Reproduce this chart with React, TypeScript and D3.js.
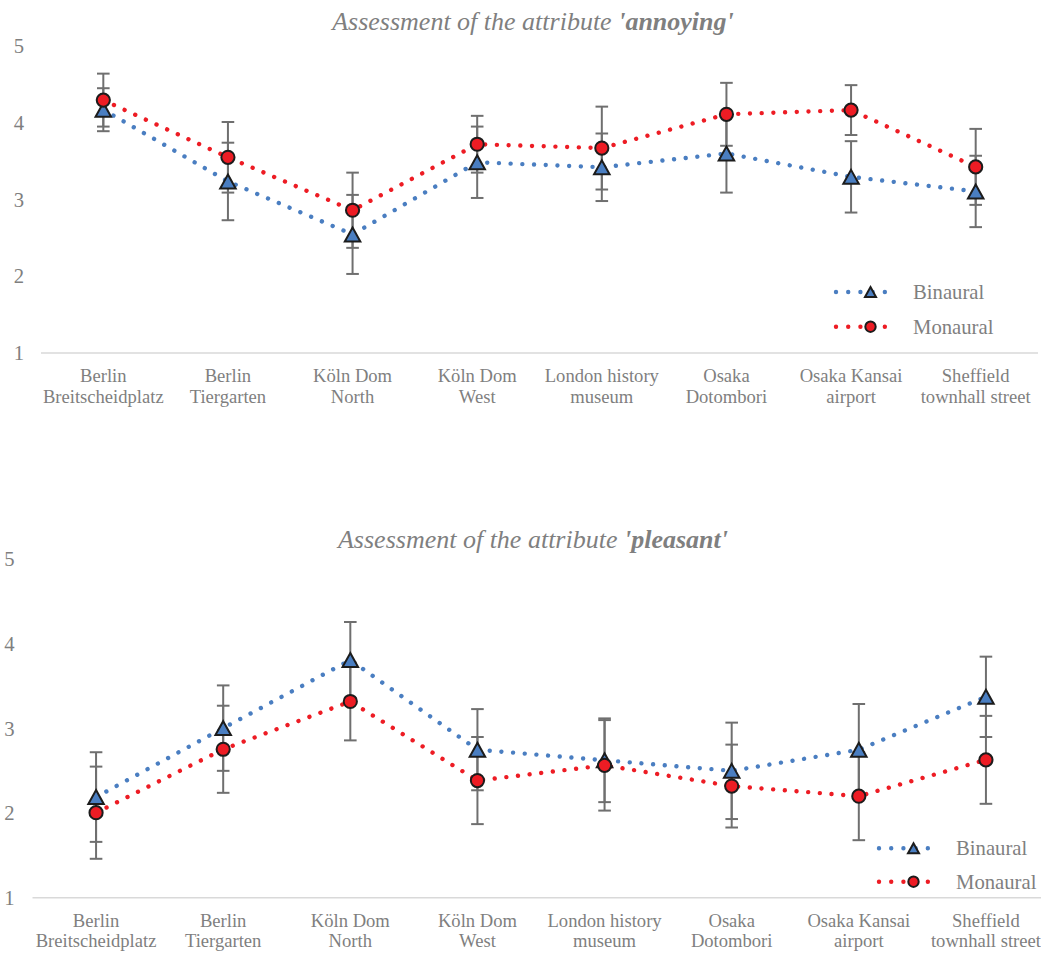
import React from "react";
import * as d3 from "d3";

const categories: string[][] = [
  ["Berlin", "Breitscheidplatz"],
  ["Berlin", "Tiergarten"],
  ["Köln Dom", "North"],
  ["Köln Dom", "West"],
  ["London history", "museum"],
  ["Osaka", "Dotombori"],
  ["Osaka Kansai", "airport"],
  ["Sheffield", "townhall street"],
];
const yTicks = [1, 2, 3, 4, 5];
const seriesNames = ["Binaural", "Monaural"];

// Attribute 'annoying'
const annoyingBinaural = [4.17, 3.235, 2.545, 3.485, 3.42, 3.6, 3.295, 3.105];
const annoyingBinauralErr = [0.28, 0.505, 0.515, 0.465, 0.44, 0.51, 0.465, 0.465];
const annoyingMonaural = [4.295, 3.55, 2.86, 3.72, 3.67, 4.11, 4.165, 3.425];
const annoyingMonauralErr = [0.345, 0.46, 0.49, 0.37, 0.54, 0.41, 0.325, 0.495];

// Attribute 'pleasant'
const pleasantBinaural = [2.19, 3.005, 3.81, 2.75, 2.625, 2.5, 2.75, 3.375];
const pleasantBinauralErr = [0.53, 0.505, 0.45, 0.48, 0.495, 0.57, 0.54, 0.475];
const pleasantMonaural = [2.005, 2.755, 3.32, 2.385, 2.565, 2.32, 2.2, 2.63];
const pleasantMonauralErr = [0.545, 0.515, 0.46, 0.515, 0.535, 0.49, 0.52, 0.52];

const BLUE = "#4a7ec1";
const RED = "#ed1c24";
const MARK_STROKE = "#1c1c1c";
const ERR = "#6f6f6f";
const TEXT = "#7f7f7f";
const FONT = "'Liberation Serif', 'Times New Roman', serif";

type PanelProps = {
  attr: string;
  titleY: number;
  x0: number;
  x1: number;
  yTop: number;
  yBottom: number;
  tickX: number;
  bin: number[];
  binErr: number[];
  mon: number[];
  monErr: number[];
  legendX: number;
  legendY: number;
  legendGap: number;
};

function Triangle({ cx, cy, s, sw }: { cx: number; cy: number; s: number; sw: number }) {
  const h = s * 0.9;
  const pts = `${cx},${cy - h / 2} ${cx + s / 2},${cy + h / 2} ${cx - s / 2},${cy + h / 2}`;
  return <polygon points={pts} fill={BLUE} stroke={MARK_STROKE} strokeWidth={sw} strokeLinejoin="miter" />;
}

function Panel(p: PanelProps) {
  const labels = categories.map((c) => c.join(" "));
  const x = d3.scaleBand<string>().domain(labels).range([p.x0, p.x1]);
  const cx = (i: number) => (x(labels[i]) as number) + x.bandwidth() / 2;
  const y = d3.scaleLinear().domain([1, 5]).range([p.yBottom, p.yTop]);
  const line = d3
    .line<number>()
    .x((_, i) => cx(i))
    .y((d) => y(d))
    .curve(d3.curveLinear);
  const dotStyle = { strokeWidth: 4.4, strokeDasharray: "0.01 11.7", strokeLinecap: "round" as const, fill: "none" };
  const capW = 6.3;
  const errBars = (vals: number[], errs: number[], key: string) =>
    vals.map((v, i) => {
      const xx = cx(i);
      const yh = y(v + errs[i]);
      const yl = y(v - errs[i]);
      return (
        <g key={key + i} stroke={ERR} strokeWidth={2}>
          <line x1={xx} x2={xx} y1={yh} y2={yl} />
          <line x1={xx - capW} x2={xx + capW} y1={yh} y2={yh} />
          <line x1={xx - capW} x2={xx + capW} y1={yl} y2={yl} />
        </g>
      );
    });
  return (
    <g>
      <text x={533} y={p.titleY} textAnchor="middle" fontFamily={FONT} fontSize={26} fontStyle="italic" fill={TEXT}>
        Assessment of the attribute <tspan fontWeight="bold">'{p.attr}'</tspan>
      </text>
      {yTicks.map((t) => (
        <text key={t} x={p.tickX} y={y(t) + 7} textAnchor="end" fontFamily={FONT} fontSize={20.7} fill={TEXT}>
          {t}
        </text>
      ))}
      <line x1={p.x0} x2={p.x1} y1={y(1)} y2={y(1)} stroke="#d9d9d9" strokeWidth={1.6} />
      {categories.map((c, i) => (
        <text key={i} textAnchor="middle" fontFamily={FONT} fontSize={18.6} fill={TEXT}>
          <tspan x={cx(i)} y={y(1) + 29}>{c[0]}</tspan>
          <tspan x={cx(i)} y={y(1) + 49.7}>{c[1]}</tspan>
        </text>
      ))}
      <path d={line(p.bin) || ""} stroke={BLUE} {...dotStyle} />
      <path d={line(p.mon) || ""} stroke={RED} {...dotStyle} />
      {errBars(p.bin, p.binErr, "be")}
      {errBars(p.mon, p.monErr, "me")}
      {p.bin.map((v, i) => (
        <Triangle key={"bt" + i} cx={cx(i)} cy={y(v)} s={15.5} sw={2} />
      ))}
      {p.mon.map((v, i) => (
        <circle key={"mc" + i} cx={cx(i)} cy={y(v)} r={6.6} fill={RED} stroke={MARK_STROKE} strokeWidth={2} />
      ))}
      {seriesNames.map((name, k) => {
        const ly = p.legendY + k * p.legendGap;
        const lx = p.legendX;
        return (
          <g key={name}>
            <line x1={lx} x2={lx + 61} y1={ly} y2={ly} stroke={k === 0 ? BLUE : RED} {...dotStyle} strokeDasharray="0.01 12.2" />
            {k === 0 ? (
              <Triangle cx={lx + 34.5} cy={ly} s={11} sw={2} />
            ) : (
              <circle cx={lx + 34.5} cy={ly} r={5.2} fill={RED} stroke={MARK_STROKE} strokeWidth={2} />
            )}
            <text x={lx + 77} y={ly + 7} fontFamily={FONT} fontSize={20.7} fill={TEXT}>
              {name}
            </text>
          </g>
        );
      })}
    </g>
  );
}

export default function App() {
  return (
    <div style={{ position: "absolute", left: 0, top: 0 }}>
      <svg width={1041} height={953} style={{ display: "block", background: "#ffffff" }}>
        <Panel
          attr="annoying"
          titleY={30}
          x0={41}
          x1={1038}
          yTop={46}
          yBottom={353}
          tickX={24}
          bin={annoyingBinaural}
          binErr={annoyingBinauralErr}
          mon={annoyingMonaural}
          monErr={annoyingMonauralErr}
          legendX={836}
          legendY={292}
          legendGap={34.7}
        />
        <Panel
          attr="pleasant"
          titleY={548}
          x0={32.5}
          x1={1049.5}
          yTop={559.4}
          yBottom={897.7}
          tickX={14.5}
          bin={pleasantBinaural}
          binErr={pleasantBinauralErr}
          mon={pleasantMonaural}
          monErr={pleasantMonauralErr}
          legendX={879}
          legendY={848.3}
          legendGap={33.4}
        />
      </svg>
    </div>
  );
}
